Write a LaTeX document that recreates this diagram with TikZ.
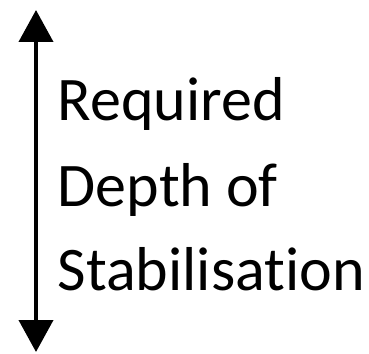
\documentclass[tikz,border=0pt]{standalone}
\usepackage{fontspec}
\setmainfont[Ligatures=NoCommon]{Carlito}
\usetikzlibrary{arrows.meta}

\begin{document}
\begin{tikzpicture}
    	[x=1pt, y=-1pt,
    	 word/.style={anchor=base west, inner sep=0pt, font=\fontsize{62}{70}\selectfont},
    	 depth/.style={line width=4pt, {Triangle[width=34pt, length=32pt]}-{Triangle[width=34pt, length=32pt]}}]
    	\useasboundingbox (0,0) rectangle (369,353);
	
    	\coordinate (top) at (36,10);
    	\coordinate (bottom) at (36,352);
    	\draw [depth] (top) -- (bottom);
	
    	\node (req) at (57.5,120) [word] {Required};
    	\node (dep) at (57.5,206) [word] {Depth of};
    	\node (stab) at (57.5,290) [word] {Stabilisation};
\end{tikzpicture}
\end{document}
